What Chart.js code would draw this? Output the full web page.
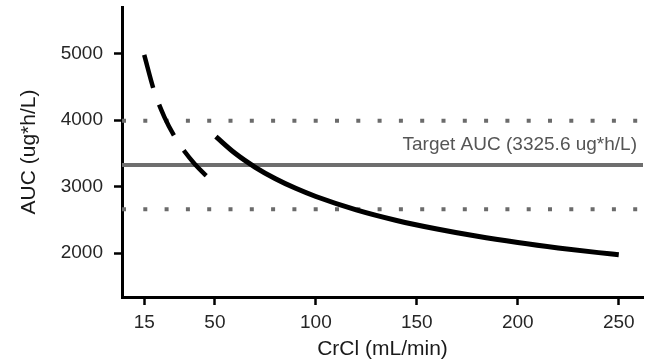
<!DOCTYPE html>
<html>
<head>
<meta charset="utf-8">
<script src="https://cdn.jsdelivr.net/npm/chart.js@4"></script>
<style>
  html, body { margin: 0; padding: 0; background: #fff; }
  #wrap { width: 650px; height: 362px; }
</style>
</head>
<body>
<div id="wrap"><canvas id="aucChart"></canvas></div>
<script>
// values
const dashedCrCl = [15, 20, 25, 30, 35, 40, 45, 48];
const dashedAUC = [4980, 4430, 4045, 3756, 3527, 3341, 3185, 3102];

const solidCrCl = [50.5, 60, 70, 80, 90, 100, 120, 140, 160, 180, 200, 220, 240, 250];
const solidAUC = [3750, 3500, 3290, 3118, 2974, 2851, 2650, 2491, 2362, 2252, 2159, 2078, 2007, 1975];

const targetAUC = 3325.6;
const upperAUC = 3991;
const lowerAUC = 2660;
const refLineCrCl = [4, 262];

const xTicks = [15, 50, 100, 150, 200, 250];
const yTicks = [2000, 3000, 4000, 5000];

const fontFamily = "'Liberation Sans', Arial, sans-serif";

const toPoints = (xs, ys) => xs.map((x, i) => ({ x: x, y: ys[i] }));
const flatLine = (v) => refLineCrCl.map(x => ({ x: x, y: v }));

// label above the target line
const targetLabelPlugin = {
    id: 'targetLabel',
    afterDatasetsDraw: function (chart) {
        const ctx = chart.ctx;
        const y = chart.scales.y.getPixelForValue(targetAUC);
        ctx.save();
        ctx.font = '19px ' + fontFamily;
        ctx.fillStyle = '#555555';
        ctx.textAlign = 'right';
        ctx.textBaseline = 'alphabetic';
        ctx.fillText('Target AUC (' + targetAUC + ' ug*h/L)', chart.chartArea.right - 6, y - 15);
        ctx.restore();
    }
};

new Chart(document.getElementById('aucChart'), {
    type: 'line',
    data: {
        datasets: [
            {
                data: toPoints(dashedCrCl, dashedAUC),
                borderColor: '#000000',
                borderWidth: 4.5,
                borderDash: [34, 18],
                borderCapStyle: 'butt',
                cubicInterpolationMode: 'monotone',
                pointRadius: 0
            },
            {
                data: toPoints(solidCrCl, solidAUC),
                borderColor: '#000000',
                borderWidth: 5,
                cubicInterpolationMode: 'monotone',
                pointRadius: 0
            },
            {
                data: flatLine(targetAUC),
                borderColor: '#6e6e6e',
                borderWidth: 4,
                pointRadius: 0
            },
            {
                data: flatLine(upperAUC),
                borderColor: '#6b6b6b',
                borderWidth: 4,
                borderDash: [4, 17.3],
                borderCapStyle: 'butt',
                pointRadius: 0
            },
            {
                data: flatLine(lowerAUC),
                borderColor: '#6b6b6b',
                borderWidth: 4,
                borderDash: [4, 17.3],
                borderCapStyle: 'butt',
                pointRadius: 0
            }
        ]
    },
    options: {
        responsive: true,
        maintainAspectRatio: false,
        animation: false,
        layout: {
            padding: { top: 7, right: 7, left: 0, bottom: 0 }
        },
        plugins: {
            legend: { display: false },
            tooltip: { enabled: false }
        },
        scales: {
            x: {
                type: 'linear',
                min: 4,
                max: 262,
                afterFit: function (scale) {
                    scale.height = 65;
                    scale.paddingLeft = 0;
                    scale.paddingRight = 0;
                },
                afterBuildTicks: function (scale) {
                    scale.ticks = xTicks.map(v => ({ value: v }));
                },
                border: { display: true, color: '#000000', width: 3 },
                grid: {
                    drawOnChartArea: false,
                    drawTicks: true,
                    tickLength: 8,
                    tickWidth: 2.5,
                    tickColor: '#000000'
                },
                ticks: {
                    padding: 6,
                    color: '#262626',
                    font: { family: fontFamily, size: 19 },
                    callback: v => String(v)
                },
                title: {
                    display: true,
                    text: 'CrCl (mL/min)',
                    color: '#1a1a1a',
                    font: { family: fontFamily, size: 21 },
                    padding: { top: 0, bottom: 0 }
                }
            },
            y: {
                type: 'linear',
                min: 1340,
                max: 5700,
                afterFit: function (scale) {
                    scale.width = 122;
                    scale.paddingTop = 0;
                    scale.paddingBottom = 0;
                },
                afterBuildTicks: function (scale) {
                    scale.ticks = yTicks.map(v => ({ value: v }));
                },
                border: { display: true, color: '#000000', width: 3 },
                grid: {
                    drawOnChartArea: false,
                    drawTicks: true,
                    tickLength: 8,
                    tickWidth: 2.5,
                    tickColor: '#000000'
                },
                ticks: {
                    padding: 11,
                    color: '#262626',
                    font: { family: fontFamily, size: 19 },
                    callback: v => String(v)
                },
                title: {
                    display: true,
                    text: 'AUC (ug*h/L)',
                    color: '#1a1a1a',
                    font: { family: fontFamily, size: 21 },
                    padding: { top: 17, bottom: 0 }
                }
            }
        }
    },
    plugins: [targetLabelPlugin]
});
</script>
</body>
</html>
